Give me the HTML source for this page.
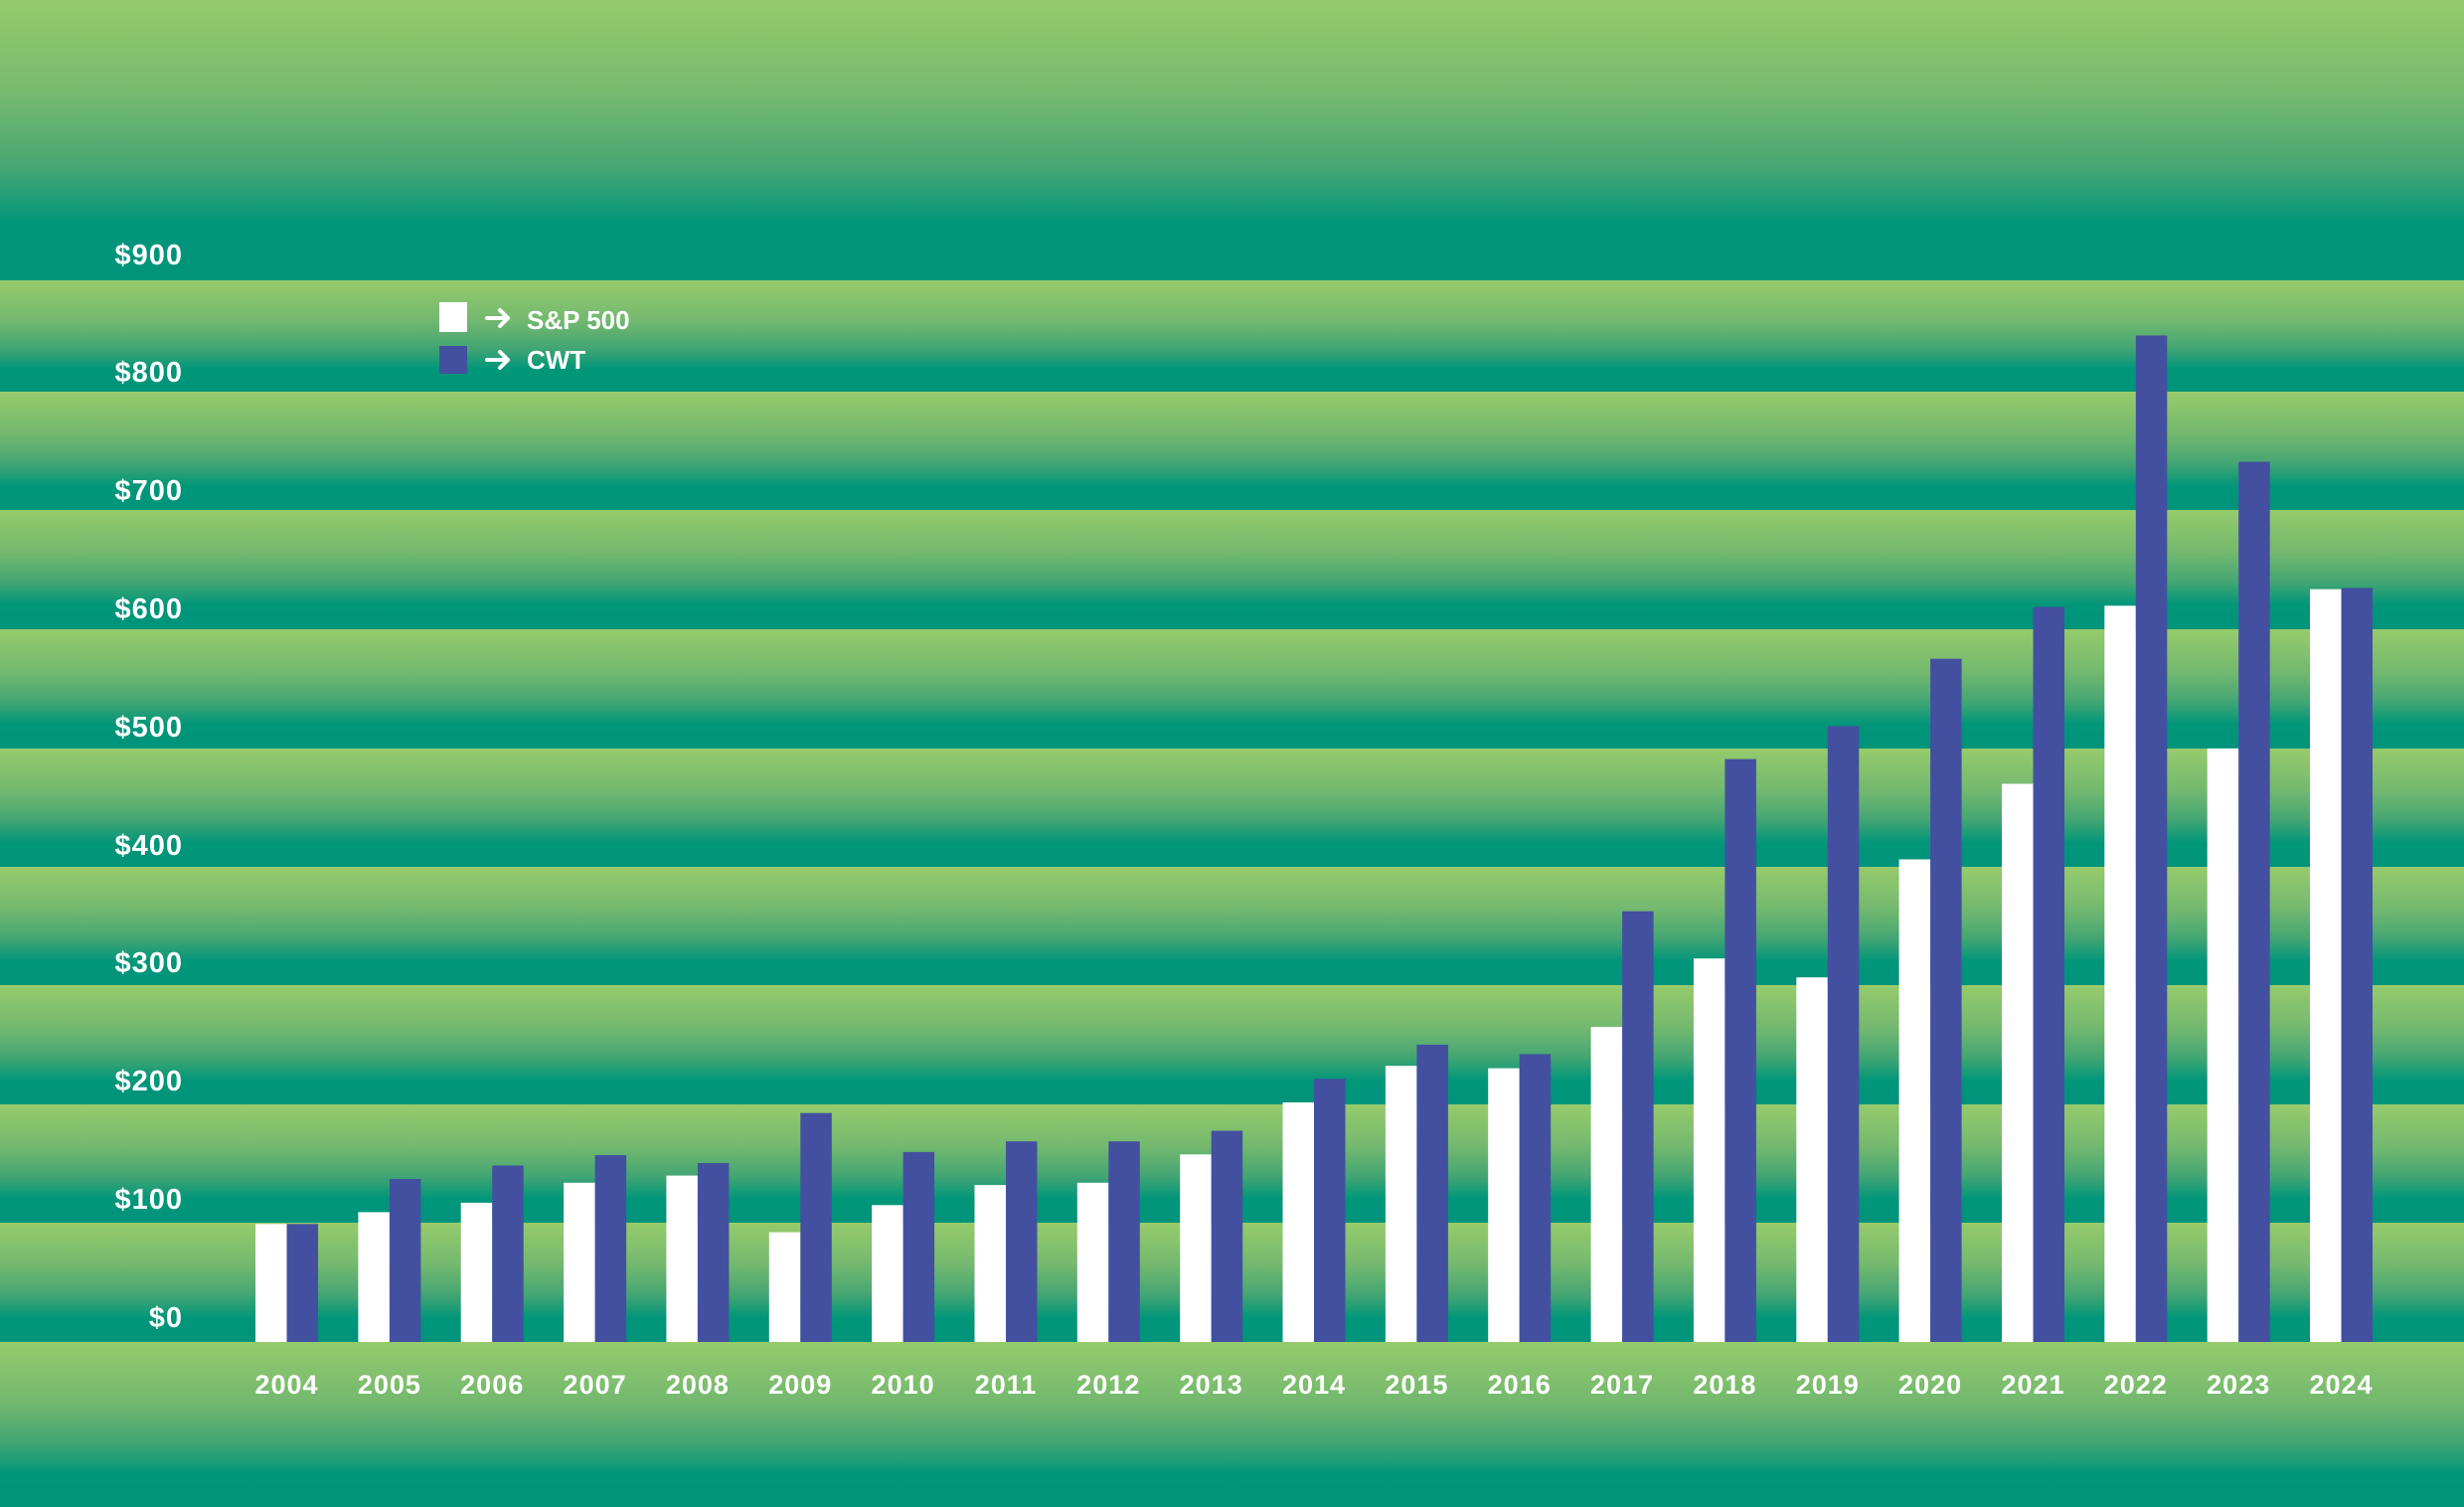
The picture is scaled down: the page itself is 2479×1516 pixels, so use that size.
<!DOCTYPE html>
<html><head><meta charset="utf-8"><style>
html,body{margin:0;padding:0;width:2479px;height:1516px;overflow:hidden;background:#00967a}
svg{display:block}
text{font-family:"Liberation Sans",sans-serif;font-weight:bold;fill:#fff}
</style></head><body>
<svg width="2479" height="1516" viewBox="0 0 2479 1516" xmlns="http://www.w3.org/2000/svg">
<defs>
<linearGradient id="g" x1="0" y1="0" x2="0" y2="1">
<stop offset="0" stop-color="#96cb6b"/><stop offset="0.35" stop-color="#74b96f"/><stop offset="0.6" stop-color="#45a673"/><stop offset="0.8" stop-color="#00967a"/><stop offset="1" stop-color="#00947a"/>
</linearGradient>
</defs>
<rect x="0" y="0" width="2479" height="282" fill="url(#g)"/>
<rect x="0" y="282" width="2479" height="112" fill="url(#g)"/>
<rect x="0" y="394" width="2479" height="119" fill="url(#g)"/>
<rect x="0" y="513" width="2479" height="120" fill="url(#g)"/>
<rect x="0" y="633" width="2479" height="120" fill="url(#g)"/>
<rect x="0" y="753" width="2479" height="119" fill="url(#g)"/>
<rect x="0" y="872" width="2479" height="119" fill="url(#g)"/>
<rect x="0" y="991" width="2479" height="120" fill="url(#g)"/>
<rect x="0" y="1111" width="2479" height="119" fill="url(#g)"/>
<rect x="0" y="1230" width="2479" height="120" fill="url(#g)"/>
<rect x="0" y="1350" width="2479" height="166" fill="url(#g)"/>

<g font-size="29" text-anchor="end" letter-spacing="1">
<text x="184" y="1335">$0</text>
<text x="184" y="1216">$100</text>
<text x="184" y="1097">$200</text>
<text x="184" y="978">$300</text>
<text x="184" y="860">$400</text>
<text x="184" y="741">$500</text>
<text x="184" y="622">$600</text>
<text x="184" y="503">$700</text>
<text x="184" y="384">$800</text>
<text x="184" y="266">$900</text>
</g>

<rect x="442" y="304" width="28" height="30" fill="#fff"/>
<rect x="442" y="348" width="28" height="28" fill="#4350a0"/>
<g stroke="#fff" stroke-width="4" fill="none" stroke-linecap="round" stroke-linejoin="round">
<path d="M490 320 H511 M503 312 L511 320 L503 328"/>
<path d="M490 362 H511 M503 354 L511 362 L503 370"/>
</g>
<text x="530" y="331" font-size="26">S&amp;P 500</text>
<text x="530" y="371" font-size="26">CWT</text>

<g fill="#fff">
<rect x="257" y="1231.3" width="31.5" height="118.7"/>
<rect x="360.4" y="1219.4" width="31.5" height="130.6"/>
<rect x="463.7" y="1209.9" width="31.5" height="140.1"/>
<rect x="567.1" y="1189.8" width="31.5" height="160.2"/>
<rect x="670.4" y="1182.6" width="31.5" height="167.4"/>
<rect x="773.8" y="1239.6" width="31.5" height="110.4"/>
<rect x="877.1" y="1212.3" width="31.5" height="137.7"/>
<rect x="980.5" y="1192.1" width="31.5" height="157.9"/>
<rect x="1083.8" y="1189.8" width="31.5" height="160.2"/>
<rect x="1187.2" y="1161.3" width="31.5" height="188.7"/>
<rect x="1290.5" y="1109" width="31.5" height="241"/>
<rect x="1393.9" y="1072.2" width="31.5" height="277.8"/>
<rect x="1497.2" y="1074.6" width="31.5" height="275.4"/>
<rect x="1600.6" y="1033.1" width="31.5" height="316.9"/>
<rect x="1703.9" y="964.2" width="31.5" height="385.8"/>
<rect x="1807.3" y="983.2" width="31.5" height="366.8"/>
<rect x="1910.6" y="864.5" width="31.5" height="485.5"/>
<rect x="2014" y="788.5" width="31.5" height="561.5"/>
<rect x="2117.3" y="609.3" width="31.5" height="740.7"/>
<rect x="2220.7" y="752.9" width="31.5" height="597.1"/>
<rect x="2324" y="592.7" width="31.5" height="757.3"/>
</g>
<g fill="#4350a0">
<rect x="288.5" y="1231.3" width="31.5" height="118.7"/>
<rect x="391.9" y="1186" width="31.5" height="164"/>
<rect x="495.2" y="1172.5" width="31.5" height="177.5"/>
<rect x="598.6" y="1162" width="31.5" height="188"/>
<rect x="701.9" y="1170" width="31.5" height="180"/>
<rect x="805.3" y="1119.7" width="31.5" height="230.3"/>
<rect x="908.6" y="1158.9" width="31.5" height="191.1"/>
<rect x="1012" y="1148.2" width="31.5" height="201.8"/>
<rect x="1115.3" y="1148.2" width="31.5" height="201.8"/>
<rect x="1218.7" y="1137.5" width="31.5" height="212.5"/>
<rect x="1322" y="1085.3" width="31.5" height="264.7"/>
<rect x="1425.4" y="1050.9" width="31.5" height="299.1"/>
<rect x="1528.7" y="1060.4" width="31.5" height="289.6"/>
<rect x="1632.1" y="916.7" width="31.5" height="433.3"/>
<rect x="1735.4" y="763.6" width="31.5" height="586.4"/>
<rect x="1838.8" y="730.4" width="31.5" height="619.6"/>
<rect x="1942.1" y="662.7" width="31.5" height="687.3"/>
<rect x="2045.5" y="610.5" width="31.5" height="739.5"/>
<rect x="2148.8" y="337.5" width="31.5" height="1012.5"/>
<rect x="2252.2" y="464.5" width="31.5" height="885.5"/>
<rect x="2355.5" y="591.5" width="31.5" height="758.5"/>
</g>

<g font-size="27" text-anchor="middle" letter-spacing="1">
<text x="288.5" y="1402">2004</text>
<text x="391.9" y="1402">2005</text>
<text x="495.2" y="1402">2006</text>
<text x="598.6" y="1402">2007</text>
<text x="701.9" y="1402">2008</text>
<text x="805.3" y="1402">2009</text>
<text x="908.6" y="1402">2010</text>
<text x="1012" y="1402">2011</text>
<text x="1115.3" y="1402">2012</text>
<text x="1218.7" y="1402">2013</text>
<text x="1322" y="1402">2014</text>
<text x="1425.4" y="1402">2015</text>
<text x="1528.7" y="1402">2016</text>
<text x="1632.1" y="1402">2017</text>
<text x="1735.4" y="1402">2018</text>
<text x="1838.8" y="1402">2019</text>
<text x="1942.1" y="1402">2020</text>
<text x="2045.5" y="1402">2021</text>
<text x="2148.8" y="1402">2022</text>
<text x="2252.2" y="1402">2023</text>
<text x="2355.5" y="1402">2024</text>
</g>
</svg>
</body></html>
